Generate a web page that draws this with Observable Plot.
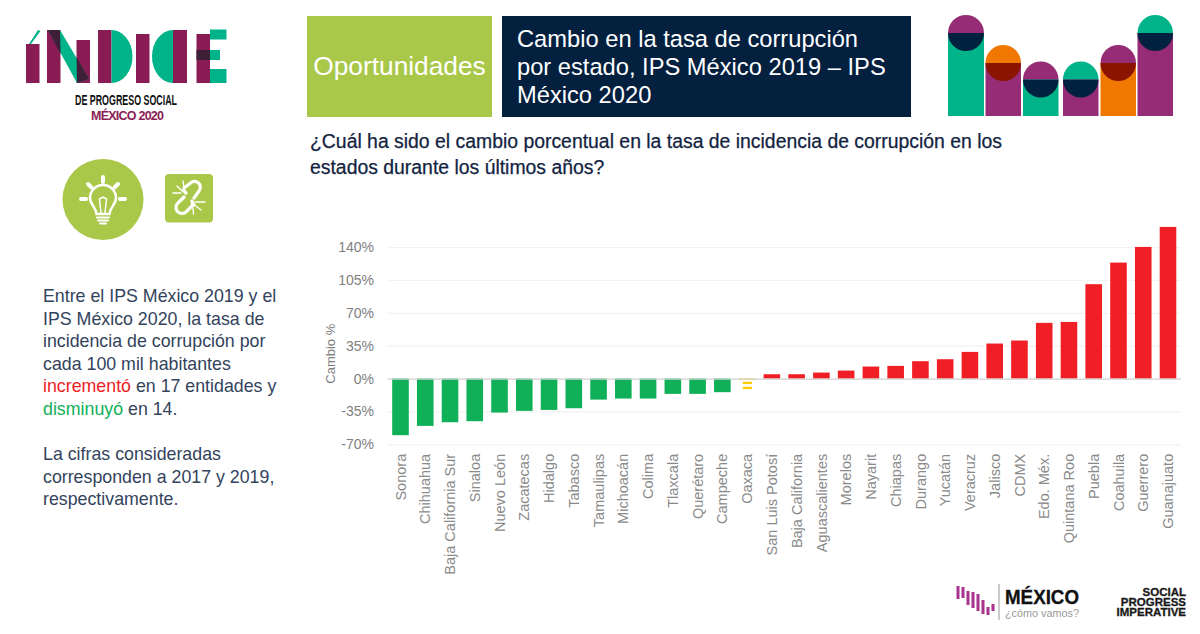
<!DOCTYPE html>
<html lang="es">
<head>
<meta charset="utf-8">
<title>Cambio en la tasa de corrupción por estado</title>
<script src="https://cdn.jsdelivr.net/npm/d3@7"></script>
<script src="https://cdn.jsdelivr.net/npm/@observablehq/plot@0.6"></script>
<style>
html,body{margin:0;padding:0;background:#fff;width:1200px;height:634px;overflow:hidden;font-family:"Liberation Sans",Arial,sans-serif}
.abs{position:absolute}
#green{left:307px;top:16px;width:185px;height:101px;background:#a9c84a;color:#fff;font-size:26.3px;display:flex;align-items:center;justify-content:center;white-space:nowrap}
#navy{left:502px;top:16px;width:409px;height:101px;background:#03203f;color:#fff;font-size:23.7px;line-height:28px;box-sizing:border-box;padding:9px 0 0 15px;white-space:nowrap}
#question{left:310px;top:128px;font-size:19.4px;line-height:26px;color:#12233f;white-space:nowrap;-webkit-text-stroke:.25px #12233f}
#body{left:43px;top:285px;font-size:17.8px;line-height:22.6px;color:#33435c;white-space:nowrap}
#chart{left:310px;top:210px}
#deco{left:0;top:0}
</style>
</head>
<body>
<svg id="deco" class="abs" width="1200" height="634" viewBox="0 0 1200 634" font-family="Liberation Sans, Arial, sans-serif">
  <!-- ÍNDICE logo -->
  <g>
    <path d="M29 44 L38 30 L40.5 31 L31 44Z" fill="#00b388"/>
    <rect x="26" y="44" width="13.5" height="39" fill="#8a1c55"/>
    <rect x="47" y="30" width="13.5" height="53" fill="#8a1c55"/>
    <rect x="76.5" y="40" width="13.5" height="43" fill="#8a1c55"/>
    <path d="M48 30 L60 30 L89 79 L77 83Z" fill="#00b388"/>
    <path d="M48 30 L60 30 L60.5 54Z" fill="#3d2038"/>
    <path d="M76.5 57 L89 79 L77 83Z" fill="#3d2038"/>
    <rect x="98" y="30" width="13.5" height="53" fill="#8a1c55"/>
    <path d="M111.5 30 A21 26.5 0 0 1 111.5 83Z" fill="#00b388"/>
    <rect x="136" y="34" width="13.5" height="49" fill="#8a1c55"/>
    <path d="M173 30 A21 26.5 0 0 0 173 83Z" fill="#00b388"/>
    <rect x="173" y="30" width="14" height="53" fill="#8a1c55"/>
    <rect x="196.500" y="34" width="13.500" height="49" fill="#8a1c55"/>
    <rect x="210" y="29.500" width="16.500" height="10" fill="#00b388"/>
    <rect x="210" y="50" width="10" height="10" fill="#00b388"/>
    <rect x="196.500" y="50" width="13.500" height="10" fill="#3d2038"/>
    <rect x="210" y="69" width="16.500" height="14" fill="#00b388"/>
    <text x="126" y="105" text-anchor="middle" font-family="Liberation Sans Narrow, Liberation Sans" font-weight="700" font-size="14.500" textLength="102" lengthAdjust="spacingAndGlyphs" fill="#111">DE PROGRESO SOCIAL</text>
    <text x="127.500" y="119.500" text-anchor="middle" font-weight="700" font-size="12.500" textLength="73" fill="#8a1c55">MÉXICO 2020</text>
  </g>
  <!-- bulb icon -->
  <circle cx="103" cy="199.500" r="40.500" fill="#a9c84a"/>
  <g fill="none" stroke="#fff" stroke-linecap="round">
    <path d="M103 177 v5 M88 184 l3.500 3.500 M118 184 l-3.500 3.500 M81 199 h5 M120 199 h5" stroke-width="4"/>
    <path d="M96.500 214 C96 207 90 204.500 90 198 A13 13 0 0 1 116 198 C116 204.500 110 207 109.500 214Z" stroke-width="2.500"/>
    <path d="M101 213 L99.500 199 L103 197 L106.500 199 L105 213" stroke-width="1.500"/>
    <path d="M97 217.500 h12 M98 220.500 h10 M100 223.500 h6" stroke-width="2"/>
  </g>
  <!-- broken link icon -->
  <rect x="165" y="174" width="48" height="48.500" rx="4" fill="#a9c84a"/>
  <g fill="none" stroke="#fff" stroke-linecap="round">
    <path d="M186 193 L184 191 A5.500 5.500 0 0 1 184 188 L190 183.500 A5.800 5.800 0 0 1 199 191 L194 198" stroke-width="3.200"/>
    <path d="M192 203 L194 205 M184 197 L178 203 A5.800 5.800 0 0 0 186 212 L192 206 A5 5 0 0 0 192 201" stroke-width="3.200"/>
    <path d="M173 193 h8 M177 186 l5 5 M183 181 l1 7 M195 202 h10 M196 206 l5 4 M193 208 l.5 6" stroke-width="1.400"/>
  </g>
  <!-- top right logo -->
  <g>
    <rect x="948" y="33" width="36" height="83" fill="#00b388"/>
    <rect x="985.500" y="63" width="35.500" height="53" fill="#962c75"/>
    <rect x="1023" y="79.500" width="35.500" height="36.500" fill="#00b388"/>
    <rect x="1063" y="79.500" width="35.500" height="36.500" fill="#962c75"/>
    <rect x="1100.500" y="63" width="35.500" height="53" fill="#f07800"/>
    <rect x="1137.500" y="33" width="35.500" height="83" fill="#962c75"/>
    <path d="M948 33 a18 18 0 0 1 36 0Z" fill="#962c75"/><path d="M948 33 a18 18 0 0 0 36 0Z" fill="#00213f"/>
    <path d="M985.500 63 a17.750 18 0 0 1 35.500 0Z" fill="#f07800"/><path d="M985.500 63 a17.750 18 0 0 0 35.500 0Z" fill="#8b1400"/>
    <path d="M1023 79.500 a17.750 18 0 0 1 35.500 0Z" fill="#962c75"/><path d="M1023 79.500 a17.750 18 0 0 0 35.500 0Z" fill="#00213f"/>
    <path d="M1063 79.500 a17.750 18 0 0 1 35.500 0Z" fill="#00b388"/><path d="M1063 79.500 a17.750 18 0 0 0 35.500 0Z" fill="#00213f"/>
    <path d="M1100.500 63 a17.750 18 0 0 1 35.500 0Z" fill="#962c75"/><path d="M1100.500 63 a17.750 18 0 0 0 35.500 0Z" fill="#8b1400"/>
    <path d="M1137.500 33 a17.750 18 0 0 1 35.500 0Z" fill="#00b388"/><path d="M1137.500 33 a17.750 18 0 0 0 35.500 0Z" fill="#00213f"/>
  </g>
  <!-- bottom logos -->
  <g fill="#a8338c">
    <rect x="956.500" y="586" width="3" height="13"/><rect x="961.500" y="587" width="3" height="11"/>
    <rect x="966.500" y="591" width="3" height="14"/><rect x="971.500" y="592" width="3" height="16"/>
    <rect x="976.500" y="594" width="3" height="17"/><rect x="981.500" y="600" width="3" height="14"/>
    <rect x="986.500" y="607" width="3" height="8"/><rect x="991.500" y="604" width="3" height="7"/>
  </g>
  <rect x="998.500" y="584" width="1" height="36" fill="#999"/>
  <text x="1005" y="603.500" font-weight="700" font-size="19.500" textLength="74" lengthAdjust="spacingAndGlyphs" fill="#111" stroke="#111" stroke-width=".3">MÉXICO</text>
  <text x="1005" y="617" font-size="11.500" textLength="74" lengthAdjust="spacingAndGlyphs" fill="#999">¿cómo vamos?</text>
  <g font-weight="700" font-size="11.500" text-anchor="end" fill="#1a1a1a" stroke="#1a1a1a" stroke-width=".3">
    <text x="1186" y="596">SOCIAL</text>
    <text x="1186" y="606">PROGRESS</text>
    <text x="1186" y="616">IMPERATIVE</text>
  </g>
</svg>

<div id="green" class="abs">Oportunidades</div>
<div id="navy" class="abs">Cambio en la tasa de corrupción<br>por estado, IPS México 2019 – IPS<br>México 2020</div>
<div id="question" class="abs">¿Cuál ha sido el cambio porcentual en la tasa de incidencia de corrupción en los<br>estados durante los últimos años?</div>
<div id="body" class="abs">Entre el IPS México 2019 y el<br>IPS México 2020, la tasa de<br>incidencia de corrupción por<br>cada 100 mil habitantes<br><span style="color:#ee1c25">incrementó</span> en 17 entidades y<br><span style="color:#10b058">disminuyó</span> en 14.<br><br>La cifras consideradas<br>corresponden a 2017 y 2019,<br>respectivamente.</div>
<div id="chart" class="abs"></div>

<script>
const states = ["Sonora","Chihuahua","Baja California Sur","Sinaloa","Nuevo León","Zacatecas","Hidalgo","Tabasco","Tamaulipas","Michoacán","Colima","Tlaxcala","Querétaro","Campeche","Oaxaca","San Luis Potosí","Baja California","Aguascalientes","Morelos","Nayarit","Chiapas","Durango","Yucatán","Veracruz","Jalisco","CDMX","Edo. Méx.","Quintana Roo","Puebla","Coahuila","Guerrero","Guanajuato"];
const changes = [-60.3,-50.4,-46.5,-45.4,-36.2,-34.4,-33.4,-31.6,-22.4,-21.3,-21.3,-16.3,-16.3,-14.5,-1,4.6,4.6,6.4,8.5,12.8,13.5,18.5,20.6,28.4,37.3,40.5,59.3,60.3,100.5,123.5,140.2,161.5];
const yTicks = [-70,-35,0,35,70,105,140];
const oaxacaDashes = [[-3.4,-5.9],[-8.7,-11.2]];
const axisTitle = "Cambio %";

const rows = states.map((state, i) => ({state, change: changes[i]}));
const fillFor = v => v > -2 && v < 0 ? "#ffcc00" : v < 0 ? "#0fb058" : "#f01f26";

const chart = Plot.plot({
  width: 880,
  height: 370,
  marginLeft: 77.5,
  marginRight: 9,
  marginTop: 16.9,
  marginBottom: 135.7,
  style: {fontFamily: "Liberation Sans, Arial, sans-serif", color: "#808080", background: "transparent", overflow: "visible"},
  x: {domain: states, paddingInner: 0.33, paddingOuter: 0.19, round: false, label: null},
  y: {domain: [-70, 161.5], label: null},
  marks: [
    Plot.ruleY(yTicks.filter(d => d !== 0), {stroke: "#f2f2f2", strokeWidth: 1.2}),
    Plot.barY(rows, {x: "state", y: "change", fill: d => fillFor(d.change)}),
    Plot.barY(oaxacaDashes.map(([y1, y2]) => ({state: "Oaxaca", y1, y2})), {x: "state", y1: "y1", y2: "y2", fill: "#ffcc00", insetLeft: 4, insetRight: 3.500}),
    Plot.ruleY([0], {stroke: "#cfcfcf", strokeWidth: 1.2}),
    Plot.axisY({ticks: yTicks, tickFormat: d => d + "%", tickSize: 0, tickPadding: 14, fontSize: 14, label: null, fill: "#808080"}),
    Plot.axisX({tickRotate: -90, tickSize: 0, tickPadding: 9, fontSize: 14.500, label: null, fill: "#8a8a8a"}),
    Plot.text([27], {y: d => d, text: () => axisTitle, frameAnchor: "left", textAnchor: "middle", rotate: -90, dx: -57.500, fontSize: 13, fill: "#808080"})
  ]
});
document.getElementById("chart").appendChild(chart);
</script>
</body>
</html>
